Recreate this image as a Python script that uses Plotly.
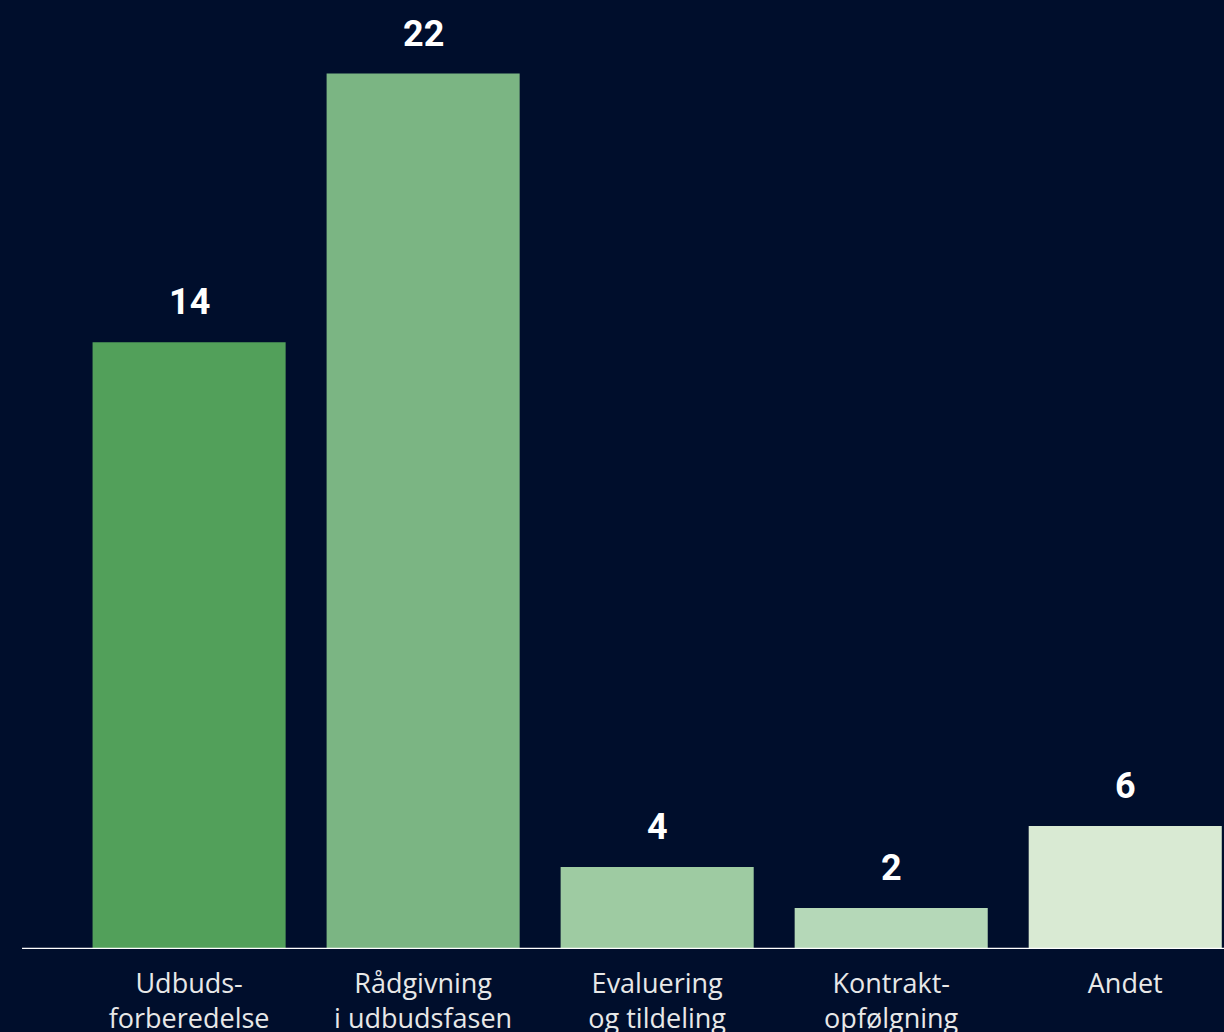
import plotly.graph_objects as go

categories = ["Udbuds-<br>forberedelse", "Rådgivning<br>i udbudsfasen", "Evaluering<br>og tildeling",
              "Kontrakt-<br>opfølgning", "Andet"]
value_labels = [14, 22, 4, 2, 6]
# bar heights as drawn in the reference (not proportional to the labels)
bar_heights = [29.6, 42.7, 4.0, 2.0, 6.0]
bar_colors = ["#52a05a", "#7bb583", "#9ecba2", "#b5d8b8", "#d9ead3"]

BG = "#000e2c"

fig = go.Figure()
fig.add_trace(go.Bar(
    x=categories, y=bar_heights,
    marker=dict(color=bar_colors, line=dict(width=0)),
    hoverinfo="skip",
))

for c, h, v in zip(categories, bar_heights, value_labels):
    fig.add_annotation(x=c, y=h, text=f"<b>{v}</b>", showarrow=False,
                       yanchor="bottom", yshift=17,
                       font=dict(family="Roboto", size=36, color="#ffffff"))

fig.add_shape(type="line", xref="paper", yref="y", x0=0.018, x1=1, y0=0, y1=0,
              line=dict(color="#ffffff", width=2.5))

fig.update_layout(
    width=1224, height=1032,
    paper_bgcolor=BG, plot_bgcolor=BG,
    margin=dict(l=0, r=0, t=0, b=83),
    bargap=0.175,
    showlegend=False,
    xaxis=dict(range=[-0.808, 4.422], showgrid=False, zeroline=False, showline=False,
               automargin=False,
               ticks="", tickfont=dict(family="Open Sans", size=27, color="#e8e8e8"),
               ticklabelstandoff=16),
    yaxis=dict(range=[0, 46.29], visible=False, automargin=False),
)

fig.write_html("out.html", config={"displayModeBar": False},
               post_script="document.body.style.margin='0';document.body.style.background='%s';" % BG)
